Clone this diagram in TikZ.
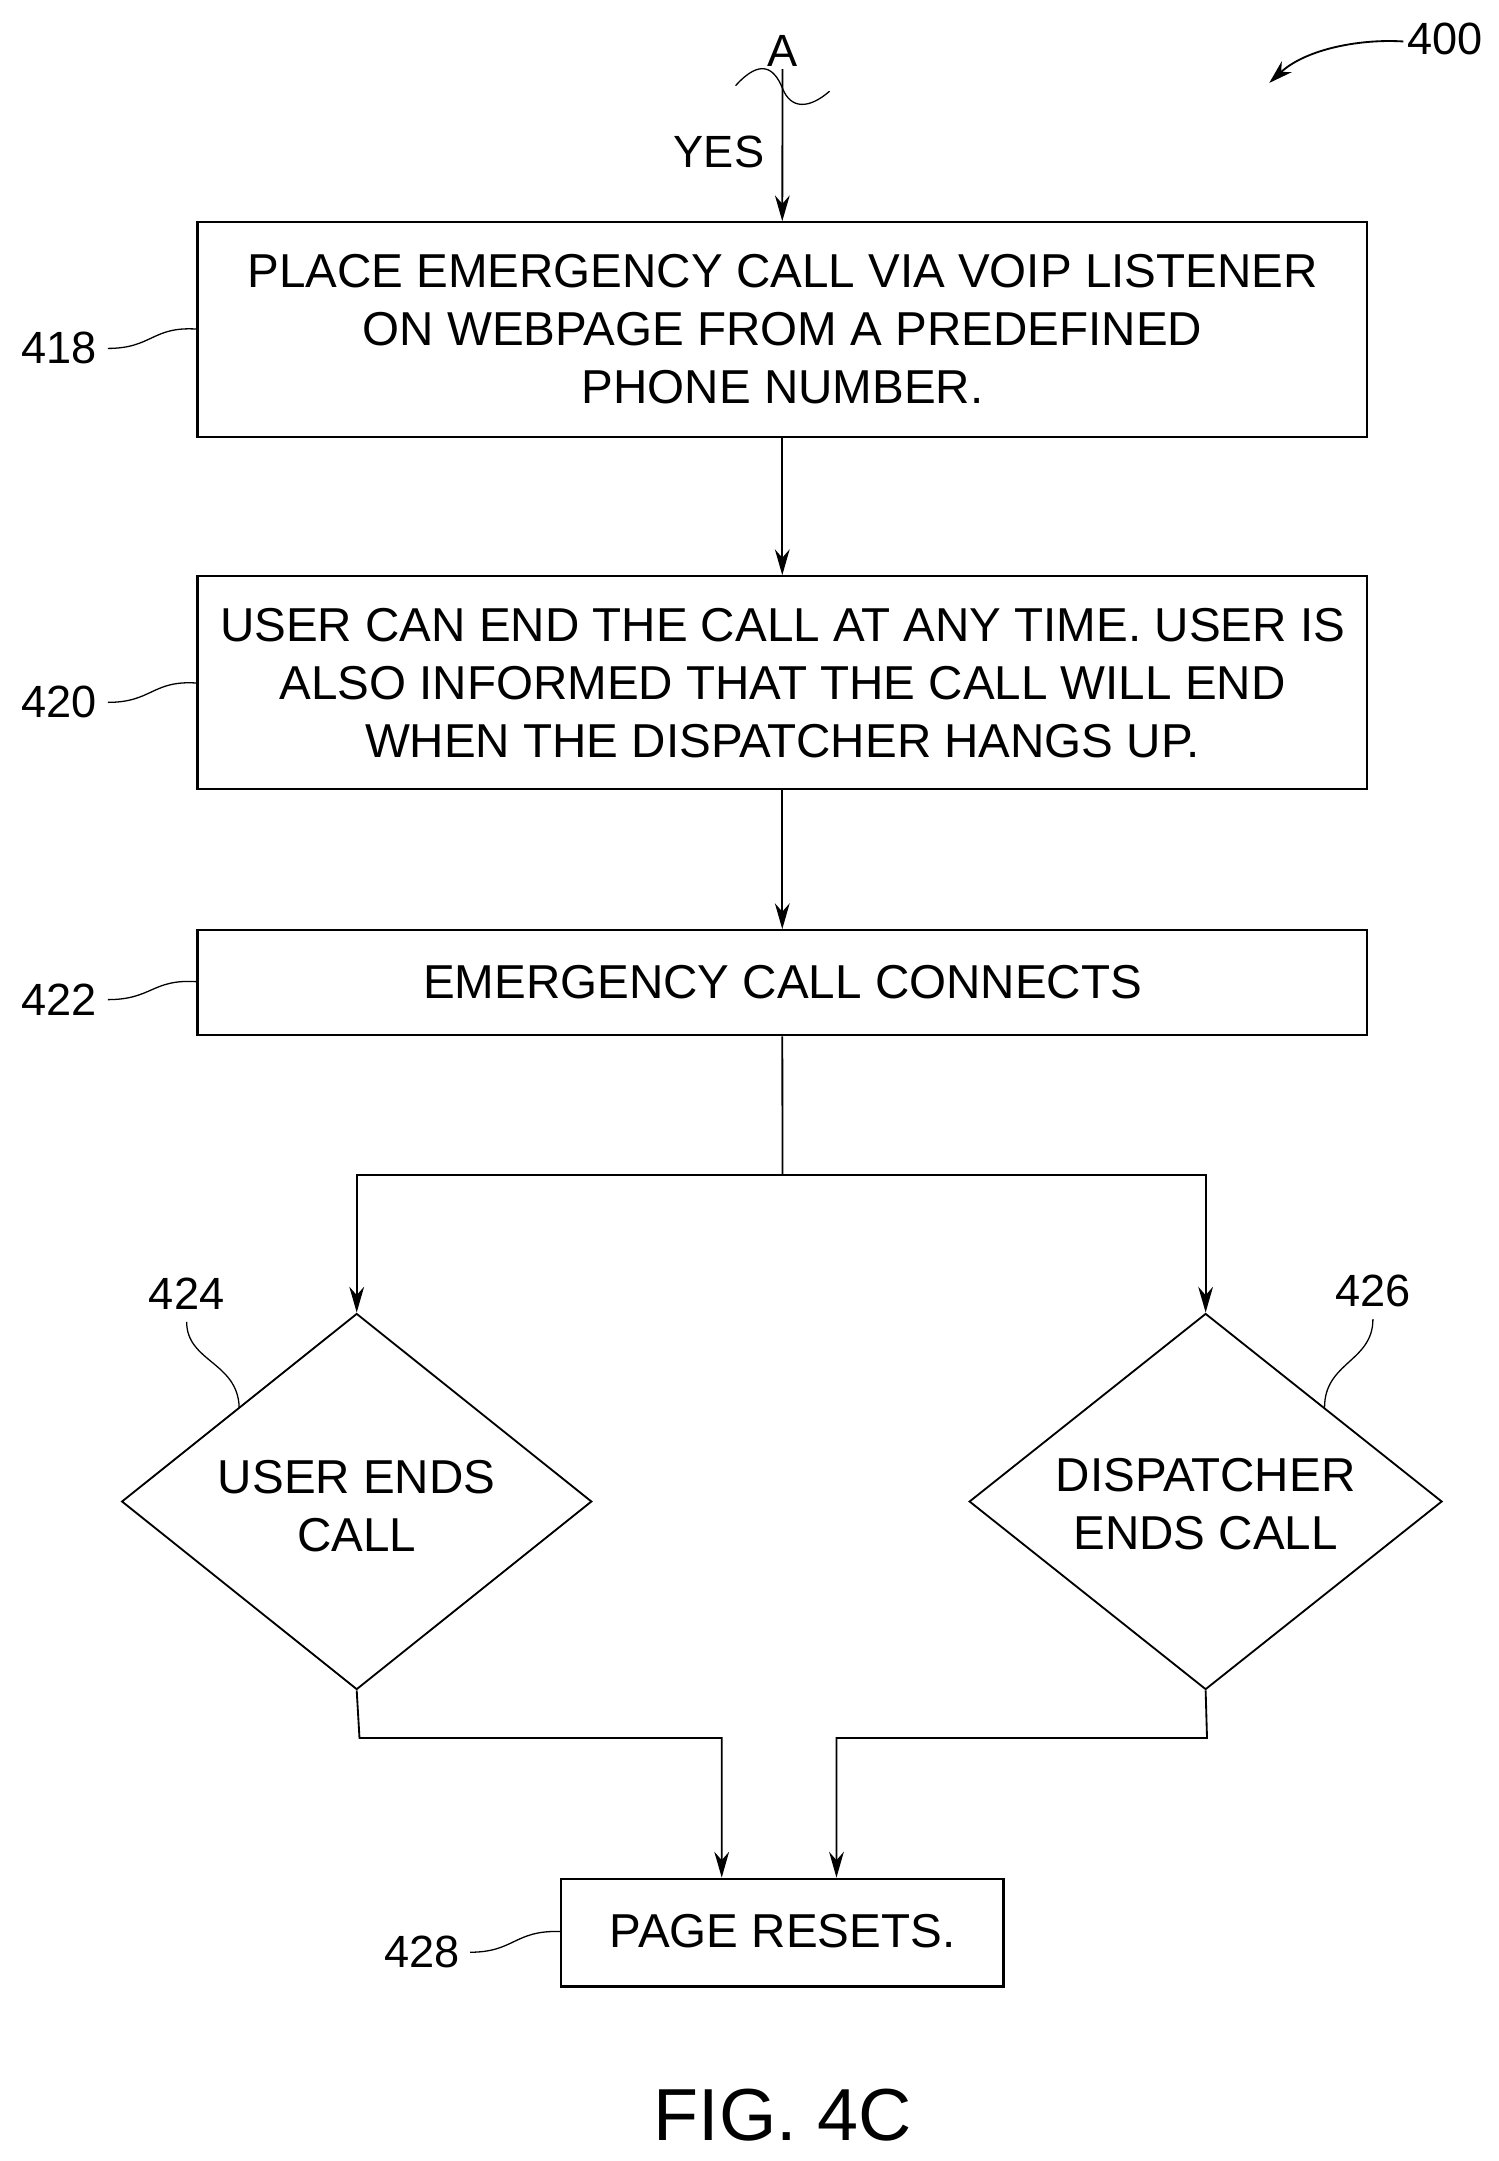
\documentclass[tikz,border=0pt]{standalone}
\usepackage{fontspec}
\setmainfont{Liberation Sans}
\usetikzlibrary{shapes.geometric,arrows.meta}
\begin{document}
\begin{tikzpicture}[x=0.75pt,y=-0.75pt,
  box/.style={draw,line width=1.2pt,rectangle,anchor=north west,inner sep=0pt},
  txt/.style={font=\fontsize{25.8}{31.5}\selectfont,align=center},
  lab/.style={font=\fontsize{24.5}{28}\selectfont},
  arr/.style={line width=1pt,-{Stealth[length=14pt,width=8pt]}},
  ln/.style={line width=1pt},
  lead/.style={line width=0.7pt}]
\useasboundingbox (0,0) rectangle (1084,1563);
\node[box,minimum width=846*0.75pt,minimum height=155*0.75pt] (b418) at (142,160) {};
\node[txt] (t418) at (566,238) {PLACE EMERGENCY CALL VIA VOIP LISTENER\\ON WEBPAGE FROM A PREDEFINED\\PHONE NUMBER.};
\node[box,minimum width=846*0.75pt,minimum height=154*0.75pt] (b420) at (142,416) {};
\node[txt] (t420) at (566,494) {USER CAN END THE CALL AT ANY TIME. USER IS\\ALSO INFORMED THAT THE CALL WILL END\\WHEN THE DISPATCHER HANGS UP.};
\node[box,minimum width=846*0.75pt,minimum height=76*0.75pt] (b422) at (142,672) {};
\node[txt] (t422) at (566,710) {EMERGENCY CALL CONNECTS};
\node[draw,line width=1pt,diamond,minimum width=340*0.75pt,minimum height=272*0.75pt,inner sep=0pt] (d424) at (258,1086) {};
\node[txt] at (258,1089) {USER ENDS\\CALL};
\node[draw,line width=1pt,diamond,minimum width=342*0.75pt,minimum height=272*0.75pt,inner sep=0pt] (d426) at (872,1086) {};
\node[txt] at (872,1088) {DISPATCHER\\ENDS CALL};
\node[box,minimum width=320*0.75pt,minimum height=78*0.75pt] (b428) at (405,1358) {};
\node[txt] (t428) at (566,1397) {PAGE RESETS.};
\node[font=\fontsize{40}{44}\selectfont] (fig) at (566,1530) {FIG. 4C};
% top
\coordinate (top) at (566,50);
\node[lab] (A) at (566,37) {A};
\node[lab] (yes) at (520,110) {YES};
\draw[lead] (532,62) .. controls (550,42) and (560,49) .. (566,64) .. controls (572,79) and (585,79) .. (600,66);
\draw[arr] (top) -- (b418.north);
\draw[arr] (b418.south) -- (b420.north);
\draw[arr] (b420.south) -- (b422.north);
\coordinate (s) at (566,850);
\draw[ln] (b422.south) -- (s);
\draw[arr] (s) -| (d424.north);
\draw[arr] (s) -| (d426.north);
\coordinate (m1) at (260,1257);
\coordinate (m2) at (873,1257);
\draw[arr] (d424.south) -- (m1) -| (522,1358);
\draw[arr] (d426.south) -- (m2) -| (605,1358);
% labels
\node[lab] (l418) at (43,252) {418};
\draw[lead] (78,252) .. controls (110,252) and (110,236) .. (142,238);
\node[lab] (l420) at (43,508) {420};
\draw[lead] (78,508) .. controls (110,508) and (110,492) .. (142,494);
\node[lab] (l422) at (43,723) {422};
\draw[lead] (78,723) .. controls (110,723) and (110,708) .. (142,710);
\node[lab] (l424) at (135,936) {424};
\draw[lead] (135,956) .. controls (135,985) and (172,985) .. (173,1018);
\node[lab] (l426) at (993,934) {426};
\draw[lead] (993,954) .. controls (993,985) and (958,985) .. (958,1018);
\node[lab] (l428) at (305,1412) {428};
\draw[lead] (340,1412) .. controls (372,1412) and (372,1396) .. (405,1397);
\node[lab] (l400) at (1045,28) {400};
\draw[line width=1pt,-{Stealth[length=13pt,width=8pt]}] (1015,30) .. controls (985,28) and (945,35) .. (918,60);
\end{tikzpicture}
\end{document}
